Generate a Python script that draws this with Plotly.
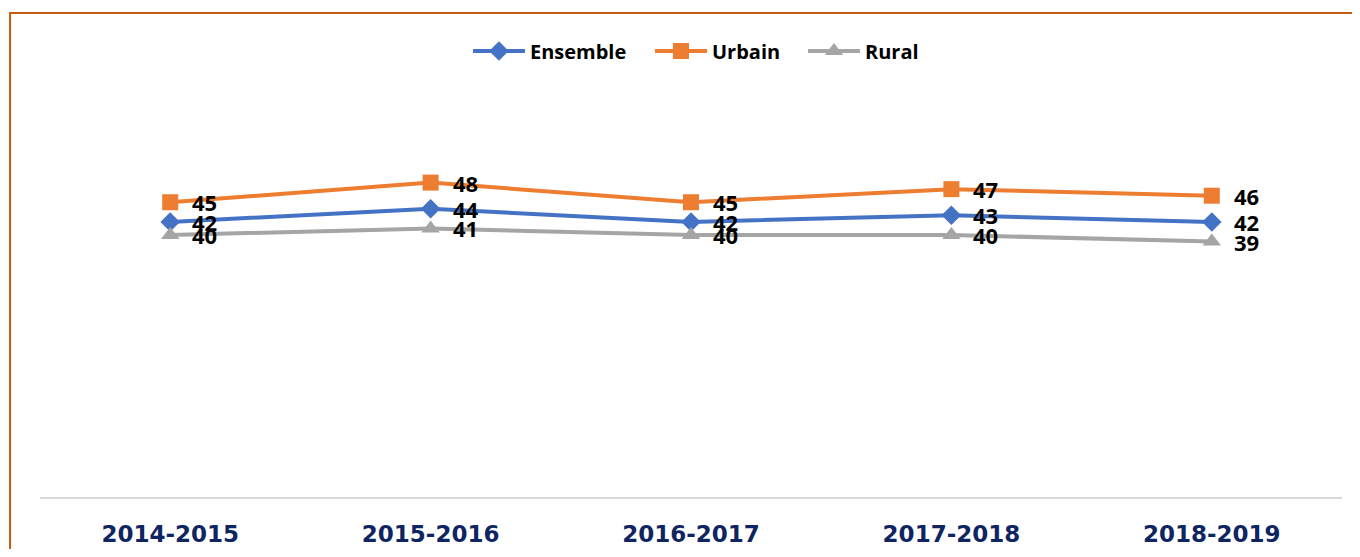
import plotly.graph_objects as go

categories = ["2014-2015", "2015-2016", "2016-2017", "2017-2018", "2018-2019"]
ensemble = [42, 44, 42, 43, 42]
urbain = [45, 48, 45, 47, 46]
rural = [40, 41, 40, 40, 39]

series = [
    ("Ensemble", ensemble, "#4472C4", "diamond", 15, 115),
    ("Urbain", urbain, "#ED7D31", "square", 16, 86),
    ("Rural", rural, "#A5A5A5", "triangle-up", 16, 60),
]

fig = go.Figure()
for name, vals, color, sym, size, lw in series:
    fig.add_trace(go.Scatter(
        x=categories, y=vals, name=name, mode="lines+markers",
        line=dict(color=color, width=4),
        marker=dict(symbol=sym, size=size, color=color),
        legendwidth=lw,
    ))

# data labels (Ensemble, Urbain, then Rural on top)
for name, vals, color, sym, size, lw in series:
    for c, v in zip(categories, vals):
        fig.add_annotation(
            x=c, y=v, text=str(v), showarrow=False,
            xanchor="left", yanchor="middle", xshift=20,
            font=dict(family="Open Sans", size=22, color="#000000", weight="bold"),
        )

fig.add_shape(type="rect", xref="paper", yref="paper",
              x0=-0.023, x1=1.1, y0=-0.3, y1=1.2316,
              line=dict(color="#C55A11", width=2), fillcolor="rgba(0,0,0,0)", layer="below")

fig.update_layout(
    width=1344, height=541,
    margin=dict(l=32, r=10, t=96, b=52, autoexpand=False),
    paper_bgcolor="white", plot_bgcolor="white",
    showlegend=True,
    legend=dict(orientation="h", x=0.3287, xanchor="left", y=1.135, yanchor="middle",
                font=dict(family="Open Sans", size=20, color="#000000", weight="bold"),
                itemwidth=52, bgcolor="rgba(0,0,0,0)"),
    xaxis=dict(
        type="category", range=[-0.5, 4.5], showgrid=False, zeroline=False,
        showline=True, linecolor="#D9D9D9", linewidth=2, ticks="", automargin=False,
        tickfont=dict(family="DejaVu Sans", size=23, color="#0E2561", weight="bold"),
        ticklabelstandoff=15,
    ),
    yaxis=dict(range=[0, 60], showgrid=False, zeroline=False, showline=False,
               showticklabels=False, ticks="", automargin=False),
)

fig.write_html("out.html")
